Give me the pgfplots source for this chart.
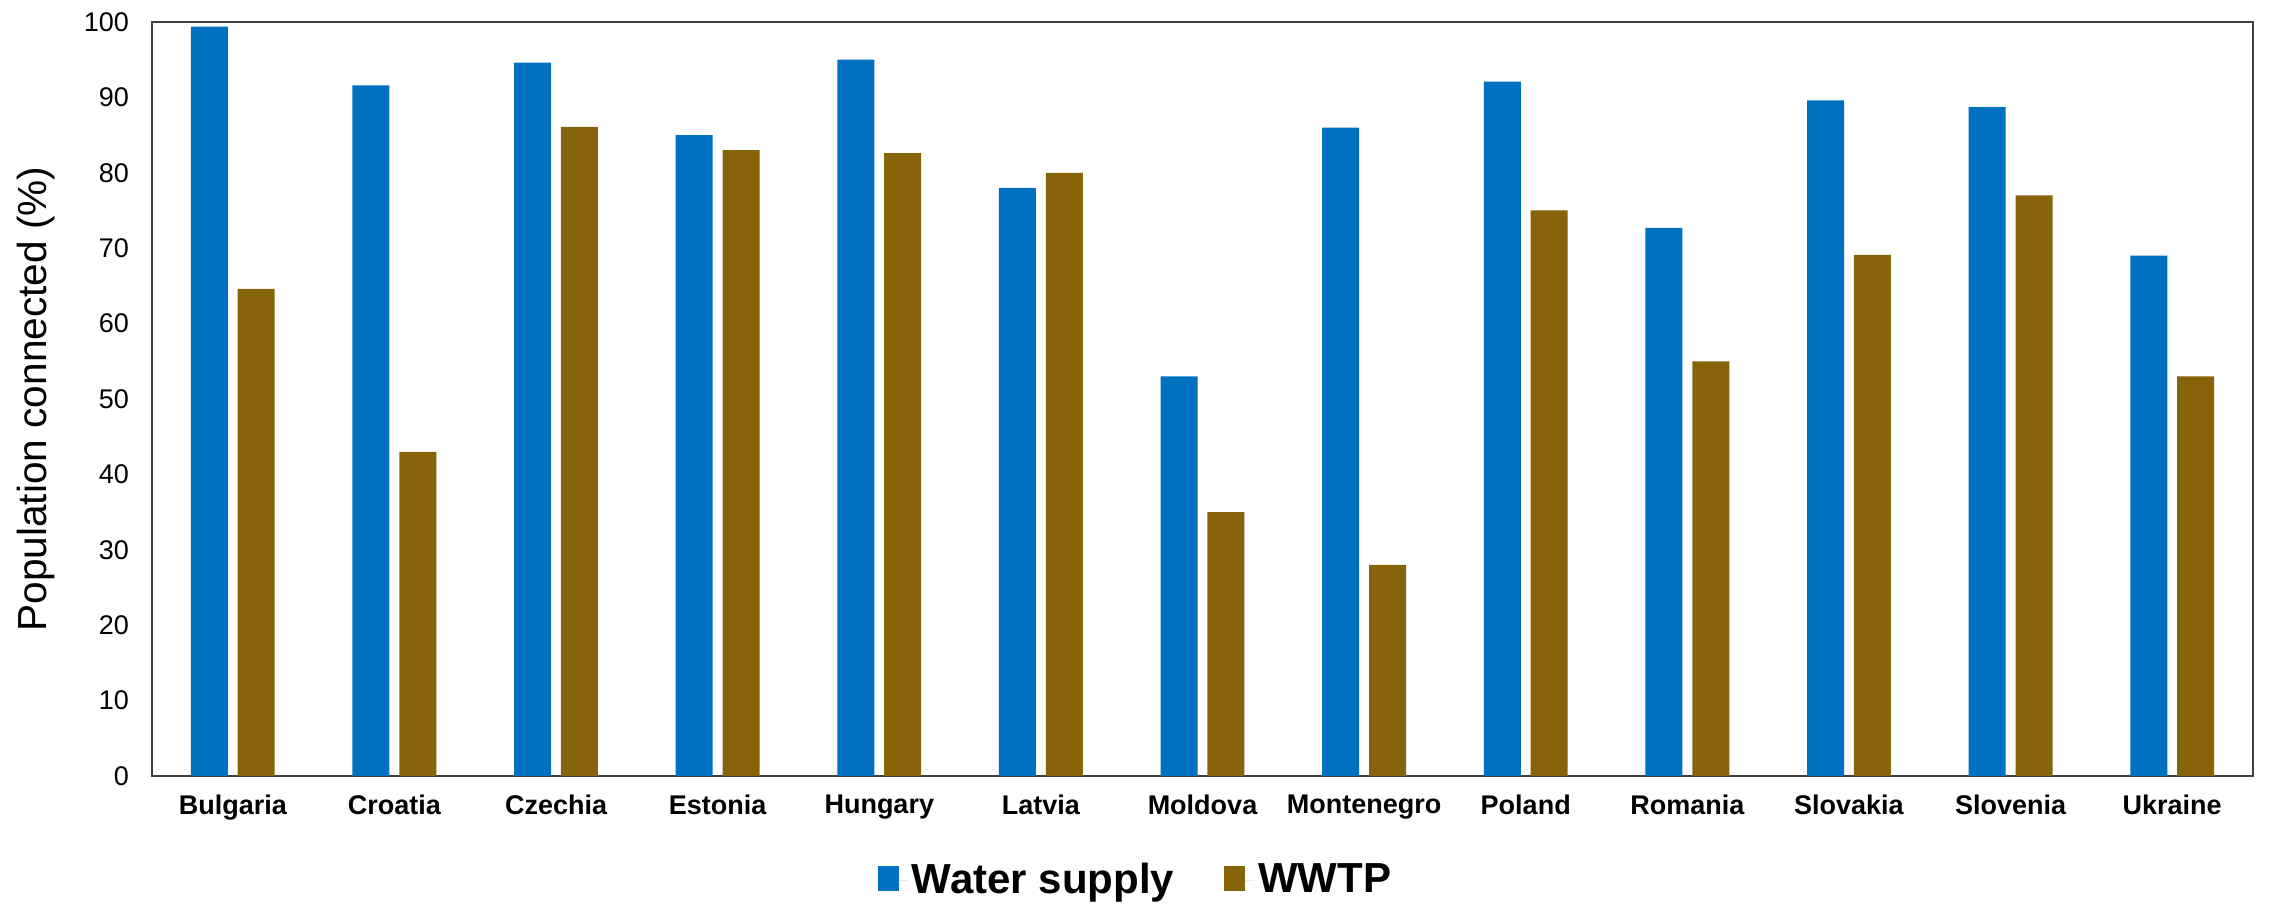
\documentclass[border=0pt]{standalone}
\usepackage{fontspec}
\setmainfont{Liberation Sans}
\usepackage{pgfplots}
\pgfplotsset{compat=1.18}
\usepackage{pgfplotstable}

\definecolor{waterblue}{RGB}{0,112,192}
\definecolor{wwtpbrown}{RGB}{135,100,10}
\definecolor{framegray}{RGB}{64,64,64}

% Share of population connected, by country
\pgfplotstableread{
idx water wwtp
0  99.4 64.6
1  91.6 43.0
2  94.6 86.1
3  85.0 83.0
4  95.0 82.6
5  78.0 80.0
6  53.0 35.0
7  86.0 28.0
8  92.1 75.0
9  72.7 55.0
10 89.6 69.1
11 88.7 77.0
12 69.0 53.0
}\conndata

\begin{document}
\begin{tikzpicture}
\useasboundingbox (-76pt,-66.5pt) rectangle (1060pt,388pt);
\begin{axis}[
  at={(0,0)}, anchor=south west,
  scale only axis,
  width=1050.5pt, height=377pt,
  xmin=-0.5, xmax=12.5,
  ymin=0, ymax=100,
  ytick={0,10,...,100},
  xtick={0,1,...,12},
  xticklabels={Bulgaria,Croatia,Czechia,Estonia,Hungary,Latvia,Moldova,Montenegro,Poland,Romania,Slovakia,Slovenia,Ukraine},
  major tick length=0pt,
  axis line style={framegray, line width=0.75pt},
  /pgf/number format/assume math mode=true,
  yticklabel style={font=\fontsize{13.5}{16}\selectfont, xshift=-8pt},
  xticklabel style={font=\fontsize{13.5}{16}\selectfont\bfseries, yshift=-6pt},
  ylabel={Population connected (\%)},
  ylabel style={font=\fontsize{20.3}{24}\selectfont, at={(axis description cs:-0.0552,0.5)}, anchor=center},
  legend style={at={(0.4686,-0.138)}, anchor=center, draw=none,
    font=\fontsize{21}{25}\selectfont\bfseries,
    legend columns=2,
    /tikz/every even column/.append style={column sep=23pt},
    legend cell align=left},
  % filled square, then a little blank room before the entry text
  legend image code/.code={%
    \path[#1,draw=none] (0pt,-5.5pt) rectangle (10.5pt,7pt);
    \path (10.5pt,0pt) -- (15pt,0pt);},
]
\addplot[ybar, bar width=0.229, bar shift=-0.145, fill=waterblue, draw=none]
  table[x=idx, y=water] {\conndata};
\addlegendentry{Water supply}
\addplot[ybar, bar width=0.229, bar shift=0.145, fill=wwtpbrown, draw=none]
  table[x=idx, y=wwtp] {\conndata};
\addlegendentry{WWTP}
\end{axis}
\end{tikzpicture}
\end{document}
